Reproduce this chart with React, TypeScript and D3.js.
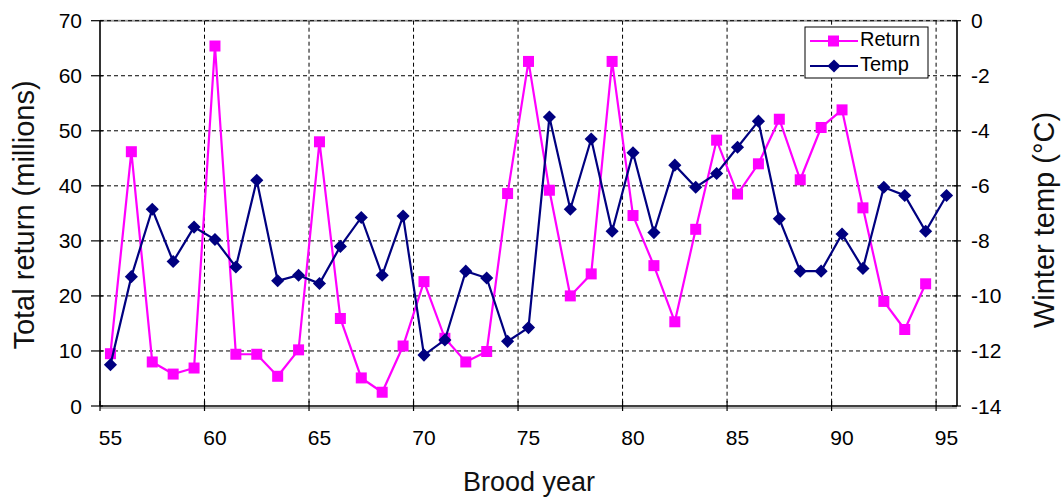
import React from "react";
import * as d3 from "d3";

// brood years (x), total return in millions (left axis), winter temp in °C (right axis)
const years = [55, 56, 57, 58, 59, 60, 61, 62, 63, 64, 65, 66, 67, 68, 69, 70, 71, 72, 73, 74,
  75, 76, 77, 78, 79, 80, 81, 82, 83, 84, 85, 86, 87, 88, 89, 90, 91, 92, 93, 94, 95];
const returnVals = [9.5, 46.2, 8.0, 5.8, 6.9, 65.4, 9.4, 9.4, 5.4, 10.2, 48.0, 15.9, 5.1, 2.5,
  10.9, 22.6, 12.3, 8.0, 9.9, 38.6, 62.6, 39.2, 20.0, 24.0, 62.6, 34.6, 25.5, 15.3, 32.1, 48.3,
  38.5, 44.0, 52.1, 41.1, 50.6, 53.8, 36.0, 19.0, 13.9, 22.2];
const tempVals = [-12.5, -9.3, -6.85, -8.75, -7.5, -7.95, -8.95, -5.8, -9.45, -9.25, -9.55,
  -8.2, -7.15, -9.25, -7.1, -12.15, -11.6, -9.1, -9.35, -11.65, -11.15, -3.5, -6.85, -4.3,
  -7.65, -4.8, -7.7, -5.25, -6.05, -5.55, -4.6, -3.65, -7.2, -9.1, -9.1, -7.75, -9.0, -6.05,
  -6.35, -7.65, -6.35];
const xTicks = [55, 60, 65, 70, 75, 80, 85, 90, 95];
const leftTicks = [0, 10, 20, 30, 40, 50, 60, 70];
const rightTicks = [-14, -12, -10, -8, -6, -4, -2, 0];

const W = 1062;
const H = 499;
const top = 20.7;
const bottom = 406;
const left = 100;
const right = 957;
const font = "'Liberation Sans', Arial, sans-serif";
const MAGENTA = "#ff00ff";
const NAVY = "#000080";

export default function App() {
  const x = d3.scaleLinear().domain([55, 96]).range([left, right]);
  const yL = d3.scaleLinear().domain([0, 70]).range([bottom, top]);
  const yR = d3.scaleLinear().domain([-14, 0]).range([bottom, top]);
  // points sit in the middle of each year slot
  const px = (yr: number) => x(yr + 0.5);

  const retLine = d3.line<number>().x((_, i) => px(years[i])).y((d) => yL(d))(returnVals) || "";
  const tmpLine = d3.line<number>().x((_, i) => px(years[i])).y((d) => yR(d))(tempVals) || "";

  const diamond = d3.symbol().type(d3.symbolDiamond2).size(110)() || "";

  return (
    <svg width={W} height={H} style={{ position: "absolute", left: 0, top: 0, background: "#fff" }}
      fontFamily={font}>
      {/* frame top */}
      <line x1={left} x2={right} y1={top} y2={top} stroke="#a0a0a0" strokeWidth={2} />
      {/* gridlines */}
      {leftTicks.filter((t) => t > 0).map((t) => (
        <line key={"h" + t} x1={left} x2={right} y1={yL(t)} y2={yL(t)} stroke="#000"
          strokeWidth={1} strokeDasharray="4,3" />
      ))}
      {xTicks.filter((t) => t > 55).map((t) => (
        <line key={"v" + t} x1={x(t)} x2={x(t)} y1={top} y2={bottom} stroke="#000"
          strokeWidth={1} strokeDasharray="4,3" />
      ))}
      {/* axes */}
      <line x1={left} x2={right} y1={bottom + 2} y2={bottom + 2} stroke="#b8b8b8" strokeWidth={2} />
      <line x1={left} x2={right} y1={bottom} y2={bottom} stroke="#000" strokeWidth={1.6} />
      <line x1={left} x2={left} y1={top} y2={bottom} stroke="#000" strokeWidth={1.6} />
      <line x1={right} x2={right} y1={top} y2={bottom} stroke="#000" strokeWidth={1.6} />
      {leftTicks.map((t) => (
        <g key={"l" + t}>
          <line x1={left - 9} x2={left + 3} y1={yL(t)} y2={yL(t)} stroke="#000" strokeWidth={1.2} />
          <text x={82} y={yL(t) + 7.5} textAnchor="end" fontSize={21}>{t}</text>
        </g>
      ))}
      {rightTicks.map((t) => (
        <g key={"r" + t}>
          <line x1={right - 5} x2={right + 4} y1={yR(t)} y2={yR(t)} stroke="#000" strokeWidth={1.2} />
          <text x={971} y={yR(t) + 7.5} textAnchor="start" fontSize={21}>{t}</text>
        </g>
      ))}
      {xTicks.map((t) => (
        <g key={"x" + t}>
          <line x1={x(t)} x2={x(t)} y1={bottom - 5} y2={bottom + 5} stroke="#000" strokeWidth={1.2} />
          <text x={px(t)} y={445} textAnchor="middle" fontSize={21}>{t}</text>
        </g>
      ))}
      {/* axis titles */}
      <text x={529} y={491} textAnchor="middle" fontSize={27} fill="#111">Brood year</text>
      <text transform={`translate(34,215) rotate(-90)`} textAnchor="middle"
        fontSize={29} fill="#111">Total return (millions)</text>
      <text transform={`translate(1054,220) rotate(-90)`} textAnchor="middle"
        fontSize={29} fill="#111">Winter temp (°C)</text>

      {/* Return series */}
      <path d={retLine} fill="none" stroke={MAGENTA} strokeWidth={2.2} />
      {returnVals.map((v, i) => (
        <rect key={"rm" + i} x={px(years[i]) - 5.5} y={yL(v) - 5.5} width={11} height={11} fill={MAGENTA} />
      ))}
      {/* Temp series */}
      <path d={tmpLine} fill="none" stroke={NAVY} strokeWidth={2.2} />
      {tempVals.map((v, i) => (
        <path key={"tm" + i} d={diamond} transform={`translate(${px(years[i])},${yR(v)})`} fill={NAVY} />
      ))}

      {/* legend */}
      <rect x={805} y={27} width={123} height={51} fill="#fff" stroke="#000" strokeWidth={1} />
      <line x1={810} x2={858} y1={41} y2={41} stroke={MAGENTA} strokeWidth={2} />
      <rect x={828} y={35.5} width={11} height={11} fill={MAGENTA} />
      <text x={860} y={46} fontSize={20}>Return</text>
      <line x1={810} x2={858} y1={66} y2={66} stroke={NAVY} strokeWidth={2} />
      <path d={diamond} transform="translate(834,66)" fill={NAVY} />
      <text x={860} y={71} fontSize={20}>Temp</text>
    </svg>
  );
}
